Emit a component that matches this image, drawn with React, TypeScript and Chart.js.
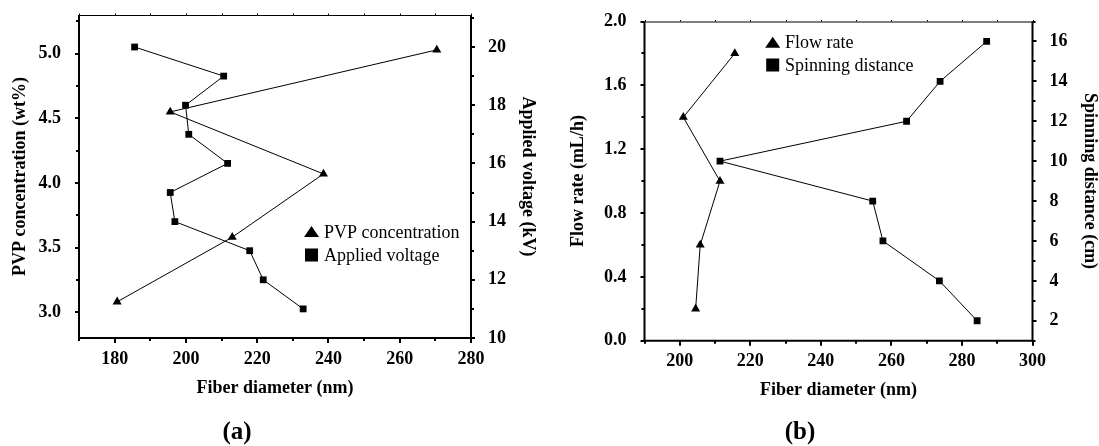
import React, { useEffect, useRef } from "react";
import { Chart, registerables } from "chart.js";

Chart.register(...registerables);

// ---------- Panel (a) data ----------
const aPvpFiber = [180.7, 213.0, 238.6, 195.6, 270.4];
const aPvpConc = [3.08, 3.58, 4.07, 4.55, 5.03];
const aVoltFiber = [185.6, 210.6, 199.9, 200.8, 211.7, 195.6, 196.9, 217.9, 221.7, 232.9];
const aVoltage = [20, 19, 18, 17, 16, 15, 14, 13, 12, 11];
const aXTicks = [180, 200, 220, 240, 260, 280];
const aLeftTicks = [3.0, 3.5, 4.0, 4.5, 5.0];
const aRightTicks = [10, 12, 14, 16, 18, 20];

// ---------- Panel (b) data ----------
const bFlowFiber = [204.5, 205.8, 211.4, 201.0, 215.6];
const bFlowRate = [0.2, 0.6, 1.0, 1.4, 1.8];
const bDistFiber = [284.3, 273.6, 257.6, 254.7, 211.4, 264.3, 273.8, 287.0];
const bDistance = [2, 4, 6, 8, 10, 12, 14, 16];
const bXTicks = [200, 220, 240, 260, 280, 300];
const bLeftTicks = [0.0, 0.4, 0.8, 1.2, 1.6, 2.0];
const bRightTicks = [2, 4, 6, 8, 10, 12, 14, 16];

const FONT = "'Liberation Serif', 'Times New Roman', serif";

const framePlugin = {
  id: "frame",
  afterDraw(chart: any, _args: any, opts: any) {
    const { ctx, chartArea } = chart;
    const { left, right, top, bottom } = chartArea;
    const sx = chart.scales.x;
    const sy = chart.scales.y;
    const sy1 = chart.scales.y1;
    ctx.save();
    ctx.strokeStyle = "#000";
    ctx.fillStyle = "#000";
    const line = (x1: number, y1: number, x2: number, y2: number) => {
      ctx.beginPath();
      ctx.moveTo(x1, y1);
      ctx.lineTo(x2, y2);
      ctx.stroke();
    };
    const isMajor = (arr: number[], v: number) => arr.some((m) => Math.abs(m - v) < 1e-6);
    const each = (min: number, max: number, step: number, fn: (v: number) => void) => {
      const n0 = Math.ceil(min / step - 1e-9);
      const n1 = Math.floor(max / step + 1e-9);
      for (let n = n0; n <= n1; n++) fn(+(n * step).toFixed(6));
    };

    // frame
    ctx.lineWidth = 1;
    line(left, top + 0.5, right, top + 0.5);
    ctx.lineWidth = 2;
    line(left, top, left, bottom + 1);
    line(right, top, right, bottom + 1);
    line(left - 1, bottom, right + 1, bottom);

    // x ticks (bottom outward, top small)
    each(sx.min, sx.max, opts.xMinor, (v) => {
      const px = Math.round(sx.getPixelForValue(v));
      const maj = isMajor(opts.xMajor, v);
      ctx.lineWidth = 2;
      line(px, bottom, px, bottom + (maj ? 5 : 3));
      ctx.lineWidth = 1;
      line(px + 0.5, top, px + 0.5, top - 1.5);
    });
    // left y ticks
    ctx.lineWidth = 2;
    each(sy.min, sy.max, opts.yMinor, (v) => {
      const py = Math.round(sy.getPixelForValue(v));
      const maj = isMajor(opts.yMajor, v);
      line(left, py, left - (maj ? 4 : 3), py);
    });
    // right y ticks
    each(sy1.min, sy1.max, opts.y1Minor, (v) => {
      const py = Math.round(sy1.getPixelForValue(v));
      const maj = isMajor(opts.y1Major, v);
      line(right, py, right + (maj ? 4 : 3), py);
    });

    // legend
    ctx.font = `18px ${FONT}`;
    ctx.textBaseline = "middle";
    ctx.textAlign = "left";
    for (const it of opts.legend) {
      if (it.shape === "triangle") {
        ctx.beginPath();
        ctx.moveTo(it.x, it.y - 6);
        ctx.lineTo(it.x + 7.5, it.y + 5);
        ctx.lineTo(it.x - 7.5, it.y + 5);
        ctx.closePath();
        ctx.fill();
      } else {
        ctx.fillRect(it.x - 6.5, it.y - 6.5, 13, 13);
      }
      ctx.fillText(it.label, it.tx, it.y + 1);
    }

    // caption
    ctx.font = `bold 25px ${FONT}`;
    ctx.textAlign = "center";
    ctx.fillText(opts.caption, opts.captionX, opts.captionY);
    ctx.restore();
  },
};

type Spec = {
  width: number;
  height: number;
  leftW: number;
  rightW: number;
  bottomH: number;
  top: number;
  xMin: number;
  xMax: number;
  yMin: number;
  yMax: number;
  y1Min: number;
  y1Max: number;
  xTicks: number[];
  yTicks: number[];
  y1Ticks: number[];
  yDigits: number;
  xTitle: string;
  yTitle: string;
  y1Title: string;
  yTitlePad: number;
  y1TitlePad: number;
  xTitlePad: number;
  xTickPad: number;
  s1: { label: string; xs: number[]; ys: number[] };
  s2: { label: string; xs: number[]; ys: number[] };
  frame: any;
};

const tickFont = { family: FONT, size: 18, weight: "bold" as const };
const titleFont = { family: FONT, size: 18, weight: "bold" as const, lineHeight: 1 };

function buildConfig(sp: Spec): any {
  const pts = (xs: number[], ys: number[]) => xs.map((x, i) => ({ x, y: ys[i] }));
  const setTicks = (arr: number[]) => (s: any) => {
    s.ticks = arr.map((v) => ({ value: v }));
  };
  const fitTo = (prop: "width" | "height", size: number) => (s: any) => {
    s[prop] = size;
    s.paddingTop = 0;
    s.paddingBottom = 0;
    s.paddingLeft = 0;
    s.paddingRight = 0;
  };
  return {
    type: "scatter",
    data: {
      datasets: [
        {
          label: sp.s1.label,
          data: pts(sp.s1.xs, sp.s1.ys),
          yAxisID: "y",
          showLine: true,
          borderColor: "#000",
          borderWidth: 1,
          backgroundColor: "#000",
          pointStyle: "triangle",
          pointRadius: 5.2,
          pointBorderWidth: 0,
          pointBackgroundColor: "#000",
        },
        {
          label: sp.s2.label,
          data: pts(sp.s2.xs, sp.s2.ys),
          yAxisID: "y1",
          showLine: true,
          borderColor: "#000",
          borderWidth: 1,
          backgroundColor: "#000",
          pointStyle: "rect",
          pointRadius: 4.8,
          pointBorderWidth: 0,
          pointBackgroundColor: "#000",
        },
      ],
    },
    options: {
      responsive: false,
      animation: false,
      devicePixelRatio: 1,
      layout: { padding: { top: sp.top, left: 0, right: 0, bottom: 0 } },
      plugins: {
        legend: { display: false },
        tooltip: { enabled: false },
        frame: sp.frame,
      },
      scales: {
        x: {
          type: "linear",
          position: "bottom",
          min: sp.xMin,
          max: sp.xMax,
          afterBuildTicks: setTicks(sp.xTicks),
          afterFit: fitTo("height", sp.bottomH),
          grid: { display: false },
          border: { display: false },
          ticks: {
            padding: sp.xTickPad,
            color: "#000",
            font: tickFont,
            maxRotation: 0,
            autoSkip: false,
            callback: (v: any) => String(v),
          },
          title: {
            display: true,
            text: sp.xTitle,
            color: "#000",
            font: titleFont,
            padding: { top: sp.xTitlePad, bottom: sp.xTitlePad },
          },
        },
        y: {
          type: "linear",
          position: "left",
          min: sp.yMin,
          max: sp.yMax,
          afterBuildTicks: setTicks(sp.yTicks),
          afterFit: fitTo("width", sp.leftW),
          grid: { display: false },
          border: { display: false },
          ticks: {
            padding: 10,
            color: "#000",
            font: tickFont,
            autoSkip: false,
            callback: (v: any) => Number(v).toFixed(sp.yDigits),
          },
          title: {
            display: true,
            text: sp.yTitle,
            color: "#000",
            font: titleFont,
            padding: { top: sp.yTitlePad, bottom: sp.yTitlePad },
          },
        },
        y1: {
          type: "linear",
          position: "right",
          min: sp.y1Min,
          max: sp.y1Max,
          afterBuildTicks: setTicks(sp.y1Ticks),
          afterFit: fitTo("width", sp.rightW),
          grid: { display: false },
          border: { display: false },
          ticks: {
            padding: 9,
            color: "#000",
            font: tickFont,
            autoSkip: false,
            callback: (v: any) => String(v),
          },
          title: {
            display: true,
            text: sp.y1Title,
            color: "#000",
            font: titleFont,
            padding: { top: sp.y1TitlePad, bottom: sp.y1TitlePad },
          },
        },
      },
    },
    plugins: [framePlugin],
  };
}

const specA: Spec = {
  width: 549,
  height: 446,
  leftW: 79,
  rightW: 78,
  bottomH: 108,
  top: 15,
  xMin: 170,
  xMax: 280,
  yMin: 2.8,
  yMax: 5.3,
  y1Min: 10,
  y1Max: 21.1,
  xTicks: aXTicks,
  yTicks: aLeftTicks,
  y1Ticks: aRightTicks,
  yDigits: 1,
  xTitle: "Fiber diameter (nm)",
  yTitle: "PVP concentration (wt%)",
  y1Title: "Applied voltage (kV)",
  yTitlePad: 11,
  y1TitlePad: 12.5,
  xTitlePad: 49,
  xTickPad: 3,
  s1: { label: "PVP concentration", xs: aPvpFiber, ys: aPvpConc },
  s2: { label: "Applied voltage", xs: aVoltFiber, ys: aVoltage },
  frame: {
    xMinor: 10,
    xMajor: aXTicks,
    yMinor: 0.25,
    yMajor: aLeftTicks,
    y1Minor: 1,
    y1Major: aRightTicks,
    legend: [
      { shape: "triangle", label: "PVP concentration", x: 311.5, y: 232, tx: 324 },
      { shape: "rect", label: "Applied voltage", x: 311.5, y: 255, tx: 324 },
    ],
    caption: "(a)",
    captionX: 237,
    captionY: 433,
  },
};

const specB: Spec = {
  width: 550,
  height: 446,
  leftW: 95.5,
  rightW: 66.5,
  bottomH: 105.3,
  top: 21.5,
  xMin: 190,
  xMax: 300,
  yMin: 0,
  yMax: 2.0,
  y1Min: 1,
  y1Max: 17,
  xTicks: bXTicks,
  yTicks: bLeftTicks,
  y1Ticks: bRightTicks,
  yDigits: 1,
  xTitle: "Fiber diameter (nm)",
  yTitle: "Flow rate (mL/h)",
  y1Title: "Spinning distance (cm)",
  yTitlePad: 20.5,
  y1TitlePad: 0,
  xTitlePad: 47,
  xTickPad: 2,
  s1: { label: "Flow rate", xs: bFlowFiber, ys: bFlowRate },
  s2: { label: "Spinning distance", xs: bDistFiber, ys: bDistance },
  frame: {
    xMinor: 10,
    xMajor: bXTicks,
    yMinor: 0.2,
    yMajor: bLeftTicks,
    y1Minor: 1,
    y1Major: bRightTicks,
    legend: [
      { shape: "triangle", label: "Flow rate", x: 223.7, y: 42.7, tx: 236 },
      { shape: "rect", label: "Spinning distance", x: 223.7, y: 65, tx: 236 },
    ],
    caption: "(b)",
    captionX: 251,
    captionY: 433,
  },
};

function Panel({ spec, left }: { spec: Spec; left: number }) {
  const ref = useRef<HTMLCanvasElement | null>(null);
  useEffect(() => {
    if (!ref.current) return;
    const chart = new Chart(ref.current, buildConfig(spec));
    return () => chart.destroy();
  }, [spec]);
  return (
    <canvas
      ref={ref}
      width={spec.width}
      height={spec.height}
      style={{ position: "absolute", left, top: 0, width: spec.width, height: spec.height }}
    />
  );
}

export default function App() {
  return (
    <div
      style={{
        position: "fixed",
        left: 0,
        top: 0,
        width: 1099,
        height: 446,
        background: "#fff",
        overflow: "hidden",
      }}
    >
      <Panel spec={specA} left={0} />
      <Panel spec={specB} left={549} />
    </div>
  );
}
